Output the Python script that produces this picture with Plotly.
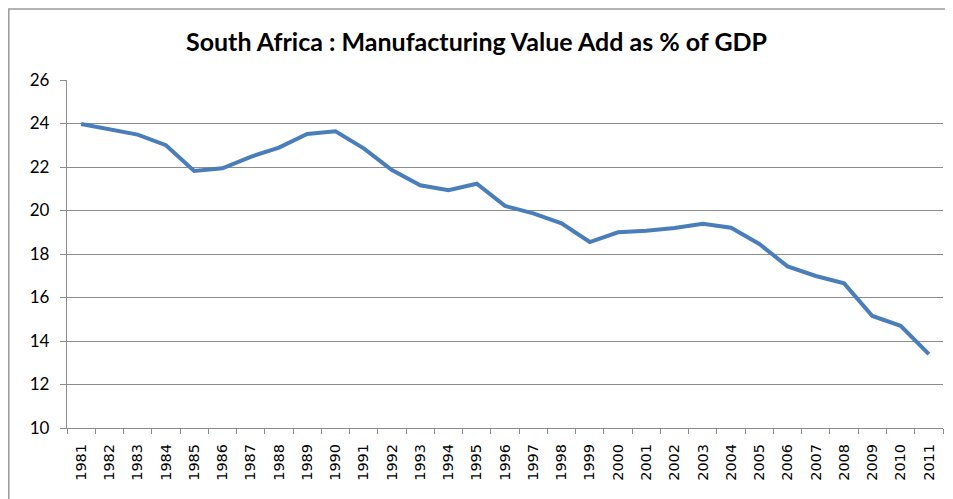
import plotly.graph_objects as go

years = [str(y) for y in range(1981, 2012)]
values = [23.98, 23.72, 23.49, 23.00, 21.82, 21.94, 22.47, 22.89, 23.52, 23.64,
          22.86, 21.86, 21.16, 20.93, 21.23, 20.21, 19.87, 19.41, 18.55, 19.00,
          19.07, 19.20, 19.39, 19.21, 18.46, 17.43, 16.99, 16.65, 15.15, 14.70, 13.40]
y_ticks = [10, 12, 14, 16, 18, 20, 22, 24, 26]
title = "South Africa : Manufacturing Value Add as % of GDP"

fig = go.Figure()
fig.add_trace(go.Scatter(x=years, y=values, mode="lines",
                         line=dict(color="#4a7ebb", width=4)))

# page has an 8px body margin; figure coordinates are page coordinates - 8
W, H = 945, 491
L, R, T, B = 59, 10, 72, 71
pw, ph = W - L - R, H - T - B

fig.update_layout(
    width=W, height=H,
    margin=dict(l=L, r=R, t=T, b=B),
    paper_bgcolor="white", plot_bgcolor="white",
    showlegend=False,
    title=dict(text="<b>" + title + "</b>", x=468.5 / W, xref="container", xanchor="center",
               y=1 - 34 / H, yanchor="middle",
               font=dict(family="Lato", size=25, color="black")),
    xaxis=dict(type="category", range=[-0.5, 30.5], tickangle=-90,
               tickson="boundaries", ticks="outside", ticklen=5, tickcolor="#8c8c8c",
               showline=True, linecolor="#8c8c8c", linewidth=1.3, ticklabelstandoff=9,
               showgrid=False, tickfont=dict(family="DejaVu Sans", size=14.5, color="black")),
    yaxis=dict(range=[10, 26], tickvals=y_ticks, ticks="outside", ticklen=6,
               tickcolor="#8c8c8c", showline=True, linecolor="#8c8c8c", linewidth=1.3,
               showgrid=True, gridcolor="#8c8c8c", gridwidth=1.3, zeroline=False,
               ticklabelstandoff=7,
               tickfont=dict(family="Lato", size=17, color="black")),
    shapes=[dict(type="rect", xref="paper", yref="paper",
                 x0=(0.8 - L) / pw, x1=1.2, y0=-0.5, y1=(H - B - 1) / ph,
                 line=dict(color="#9a9a9a", width=1.5), layer="below")],
)

fig.write_html("out.html")
